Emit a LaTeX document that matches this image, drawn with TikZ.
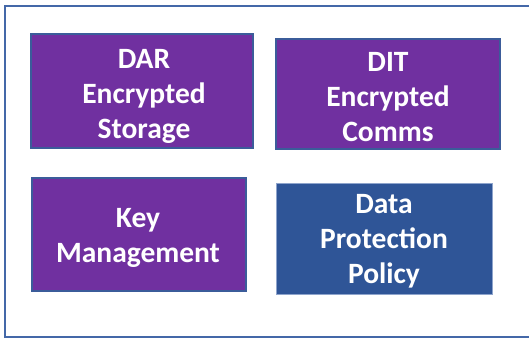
\documentclass[tikz,border=0pt]{standalone}
\usepackage{fontspec}
\setmainfont{Carlito}
\definecolor{frameblue}{HTML}{4468A8}
\definecolor{boxpurple}{HTML}{7030A0}
\definecolor{boxedge}{HTML}{3B5C9A}
\definecolor{policyblue}{HTML}{2F5597}
\definecolor{policyedge}{HTML}{8EA4CC}
\tikzset{
  tile/.style={draw=boxedge, line width=1.5pt, fill=boxpurple, inner sep=0pt},
  policytile/.style={tile, draw=policyedge, fill=policyblue, line width=1pt},
  tiletext/.style={text=white, font=\fontsize{29.5}{35}\selectfont\bfseries,
    align=center, inner sep=0pt}
}
\begin{document}
\begin{tikzpicture}[x=1pt,y=-1pt]
\useasboundingbox (0,0) rectangle (529,338);
\begin{scope}
\clip (0,0) rectangle (529,338);
\draw[frameblue, line width=2pt] (4.5,6) rectangle (540,337);
\end{scope}
\node[tile, minimum width=222pt, minimum height=114pt] (dar) at (142,91) {};
\node[tile, minimum width=224pt, minimum height=110pt] (dit) at (388,94) {};
\node[tile, minimum width=214pt, minimum height=113pt] (key) at (139,234.5) {};
\node[policytile, minimum width=216pt, minimum height=111pt] (dpp) at (384,238.5) {};
\node[tiletext] (darT) at ([xshift=2pt,yshift=-5.2pt]dar.center) {DAR\\Encrypted\\Storage};
\node[tiletext] (ditT) at ([yshift=-3.2pt]dit.center) {DIT\\Encrypted\\Comms};
\node[tiletext] (keyT) at ([xshift=-1pt,yshift=-3.2pt]key.center) {Key\\Management};
\node[tiletext] (dppT) at ([yshift=-3pt]dpp.center) {Data\\Protection\\Policy};
\end{tikzpicture}
\end{document}
